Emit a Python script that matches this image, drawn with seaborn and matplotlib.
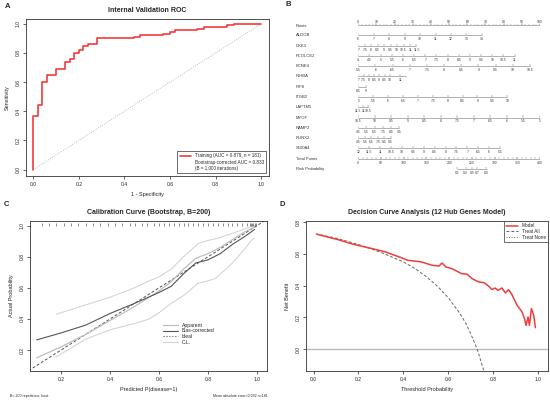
import numpy as np
import pandas as pd
import matplotlib
matplotlib.use("Agg")
import matplotlib.pyplot as plt
import seaborn as sns
from matplotlib.lines import Line2D

sns.set_style("ticks")
plt.rcParams["font.family"] = ["Liberation Sans", "DejaVu Sans"]

# ---- panel A: ROC (step points) ----
roc_fpr = [0, 0, 0.02, 0.04, 0.06, 0.10, 0.14, 0.16, 0.18, 0.20, 0.22, 0.24, 0.28,
           0.44, 0.47, 0.52, 0.57, 0.60, 0.62, 0.66, 0.72, 0.75, 0.85, 0.88, 1.0]
roc_tpr = [0, 0.37, 0.44, 0.60, 0.65, 0.69, 0.74, 0.76, 0.80, 0.82, 0.85, 0.86, 0.90,
           0.91, 0.92, 0.925, 0.93, 0.945, 0.955, 0.96, 0.965, 0.975, 0.99, 1.0, 1.0]

# ---- panel B: nomogram ----
genes = ["ALDOB", "DKK3", "PCOLCE2", "KCNE4", "INHBA", "IRF8", "ITGB2",
         "LAPTM5", "MYOF", "RAMP2", "RUNX2", "S100A4"]
gene_v0 = [6, 7, 4, 5.5, 7, 8.5, 5, 11.5, 10.5, 4.5, 4.5, 12]
gene_v1 = [14, 11.5, 11, 10.5, 11.5, 9, 10, 10.5, 5, 9.5, 9.5, 5.5]
gene_p1 = [68, 32, 86, 94.5, 26, 4, 82, 5.5, 100, 22.4, 17.8, 78]
gene_labels = [
    [6, 7, 8, 9, 10, 11, 12, 13, 14],
    [7, 7.5, 8, 8.5, 9, 9.5, 10, 10.5, 11, 11.5],
    [4, 4.5, 5, 5.5, 6, 6.5, 7, 7.5, 8, 8.5, 9, 9.5, 10, 10.5, 11],
    [5.5, 6, 6.5, 7, 7.5, 8, 8.5, 9, 9.5, 10, 10.5],
    [7, 7.5, 8, 8.5, 9, 9.5, 10, 11],
    [8.5, 9],
    [5, 5.5, 6, 6.5, 7, 7.5, 8, 8.5, 9, 9.5, 10],
    [11.5, 11, 10.5],
    [10.5, 10, 9.5, 9, 8.5, 8, 7.5, 7, 6.5, 6, 5.5, 5],
    [4.5, 5.5, 6.5, 7.5, 8.5, 9.5],
    [4.5, 5.5, 6.5, 7.5, 8.5, 9.5],
    [12, 11.5, 11, 10.5, 10, 9.5, 9, 8.5, 8, 7.5, 7, 6.5, 6, 5.5],
]
points_labels = [0, 10, 20, 30, 40, 50, 60, 70, 80, 90, 100]
total_labels = [0, 50, 100, 150, 200, 250, 300, 350, 400]
risk_probs = [0.1, 0.3, 0.5, 0.7, 0.9]
risk_total = [218, 236, 250, 262, 281]
risk_range = [218, 284]

# ---- panel C: calibration ----
cal_x = [0.10, 0.20, 0.30, 0.40, 0.50, 0.60, 0.65, 0.70, 0.75, 0.80, 0.85, 0.90, 0.95, 0.99]
cal_apparent = [0.15, 0.22, 0.30, 0.39, 0.48, 0.58, 0.64, 0.72, 0.79, 0.82, 0.86, 0.91, 0.96, 0.99]
cal_bias = [0.265, 0.31, 0.36, 0.435, 0.50, 0.57, 0.61, 0.69, 0.76, 0.78, 0.82, 0.88, 0.93, 0.975]
ci_x = [0.18, 0.30, 0.40, 0.50, 0.56, 0.60, 0.65, 0.70, 0.76, 0.80, 0.83, 0.90, 0.95, 0.98, 0.99]
ci_upper = [0.43, 0.49, 0.54, 0.60, 0.645, 0.67, 0.72, 0.80, 0.885, 0.905, 0.915, 0.95, 0.98, 0.995, 1.0]
ci_lower = [0.155, 0.27, 0.33, 0.37, 0.40, 0.44, 0.50, 0.55, 0.63, 0.645, 0.66, 0.76, 0.85, 0.91, 0.92]
rug_x = [0.12, 0.15, 0.18, 0.21, 0.24, 0.27, 0.30, 0.33, 0.36, 0.39, 0.42, 0.45, 0.48, 0.50,
         0.53, 0.55, 0.58, 0.60, 0.62, 0.64, 0.66, 0.68, 0.70, 0.72, 0.74, 0.76, 0.78, 0.80,
         0.82, 0.84, 0.86, 0.88, 0.90, 0.92, 0.94, 0.96, 0.97, 0.975, 0.98, 0.985, 0.99, 0.995]

# ---- panel D: decision curve ----
dca_thr = [0.015, 0.11, 0.18, 0.26, 0.32, 0.39, 0.42, 0.48, 0.53, 0.56, 0.573, 0.59, 0.617,
           0.66, 0.685, 0.707, 0.737, 0.76, 0.78, 0.796, 0.81, 0.823, 0.84, 0.856, 0.87,
           0.885, 0.908, 0.93, 0.942, 0.948, 0.957, 0.963, 0.972, 0.982, 0.99]
dca_model = [0.724, 0.69, 0.66, 0.634, 0.613, 0.577, 0.56, 0.55, 0.528, 0.524, 0.543, 0.518,
             0.507, 0.476, 0.472, 0.444, 0.423, 0.419, 0.398, 0.375, 0.385, 0.37, 0.385,
             0.354, 0.375, 0.343, 0.276, 0.234, 0.187, 0.149, 0.202, 0.149, 0.255, 0.213, 0.135]
all_thr = [0.01, 0.1, 0.2, 0.3, 0.4, 0.45, 0.5, 0.55, 0.6, 0.65, 0.68, 0.7, 0.73, 0.76]
all_nb = [0.727, 0.70, 0.66, 0.61, 0.55, 0.51, 0.46, 0.40, 0.325, 0.23, 0.16, 0.10, 0.0, -0.14]


def r_style(ax):
    for s in ax.spines.values():
        s.set_visible(True)
        s.set_linewidth(0.6)
        s.set_color("#333333")
    ax.tick_params(direction="out", length=2, width=0.5, labelsize=3.6, pad=2)
    for t in ax.get_yticklabels():
        t.set_rotation(90)
        t.set_va("center")


fig = plt.figure(figsize=(5.5, 4), dpi=100)

# ================= A =================
axA = fig.add_axes([26 / 550, 1 - 176 / 400, 243 / 550, 157 / 400])
axA.plot([0, 1], [0, 1], ls=":", color="#AAAAAA", lw=0.6)
roc_df = pd.DataFrame({"fpr": roc_fpr, "tpr": roc_tpr})
sns.lineplot(data=roc_df, x="fpr", y="tpr", ax=axA, sort=False, estimator=None,
             drawstyle="steps-post", color="#F03C3C", lw=1.2,
             label="Training (AUC = 0.879, n = 181)")
axA.set_xlim(-0.032, 1.034)
axA.set_ylim(-0.044, 1.032)
axA.set_xticks([0, 0.2, 0.4, 0.6, 0.8, 1.0])
axA.set_yticks([0, 0.2, 0.4, 0.6, 0.8, 1.0])
axA.set_xticklabels(["0.0", "0.2", "0.4", "0.6", "0.8", "1.0"])
axA.set_yticklabels(["0.0", "0.2", "0.4", "0.6", "0.8", "1.0"])
axA.set_xlabel("1 - Specificity", fontsize=4, labelpad=4)
axA.set_ylabel("Sensitivity", fontsize=4, labelpad=4)
axA.set_title("Internal Validation ROC", fontsize=5, fontweight="bold", pad=5)
r_style(axA)
hA = [Line2D([], [], color="#F03C3C", lw=1.2),
      Line2D([], [], color="none"), Line2D([], [], color="none")]
legA = axA.legend(hA, ["Training (AUC = 0.879, n = 181)",
                       "Bootstrap-corrected AUC = 0.833",
                       "(B = 1,000 iterations)"],
                  loc="lower right", fontsize=3.3, frameon=True, fancybox=False,
                  edgecolor="#333333", framealpha=1, handlelength=2.5,
                  borderpad=0.5, labelspacing=0.3, borderaxespad=0.6)
legA.get_frame().set_linewidth(0.5)

# ================= B =================
axB = fig.add_axes([358.3 / 550, 1 - 174 / 400, 181.7 / 550, 154 / 400])
axB.set_xlim(0, 100)
axB.set_ylim(14.5, -0.5)
axB.axis("off")
lab_x = -34.3
lc = "#777777"
tfs = 2.4


def nomo_row(row, pos, labels, p_lo, p_hi, minor=None, above=False):
    axB.plot([p_lo, p_hi], [row, row], color=lc, lw=0.4)
    if minor is not None:
        axB.vlines(minor, row - 0.12, row, color=lc, lw=0.3)
    axB.vlines(pos, row - 0.2, row, color=lc, lw=0.35)
    for p, l in zip(pos, labels):
        axB.text(p, row - 0.33 if above else row + 0.38, l, fontsize=tfs,
                 ha="center", va="center", color="#333333")


axB.text(lab_x, 0.05, "Points", fontsize=3, va="center", ha="left", color="#333333")
nomo_row(0, points_labels, [str(v) for v in points_labels], 0, 100,
         minor=np.arange(0, 101, 2), above=True)

for i, g in enumerate(genes):
    row = i + 1
    v0, v1, p1 = gene_v0[i], gene_v1[i], gene_p1[i]
    pos = [(v - v0) / (v1 - v0) * p1 for v in gene_labels[i]]
    axB.text(lab_x, row, g, fontsize=3, va="center", ha="left", color="#333333")
    nomo_row(row, pos, [f"{v:g}" for v in gene_labels[i]], 0, p1)

axB.text(lab_x, 13, "Total Points", fontsize=3, va="center", ha="left", color="#333333")
tpos = [v / 4 for v in total_labels]
nomo_row(13, tpos, [str(v) for v in total_labels], 0, 100,
         minor=np.arange(0, 101, 2.5))

axB.text(lab_x, 14, "Risk Probability", fontsize=3, va="center", ha="left", color="#333333")
nomo_row(14, [v / 4 for v in risk_total], [f"{v:g}" for v in risk_probs],
         risk_range[0] / 4, risk_range[1] / 4)

# ================= C =================
axC = fig.add_axes([30 / 550, 1 - 371 / 400, 237 / 550, 150 / 400])
axC.plot([0, 1.1], [0, 1.1], ls=(0, (3, 2)), color="#555555", lw=0.7)
sns.lineplot(x=ci_x, y=ci_upper, ax=axC, color="#D0D0D0", lw=0.7, estimator=None)
sns.lineplot(x=ci_x, y=ci_lower, ax=axC, color="#D0D0D0", lw=0.7, estimator=None)
sns.lineplot(x=cal_x, y=cal_apparent, ax=axC, color="#BDBDBD", lw=0.9, estimator=None)
sns.lineplot(x=cal_x, y=cal_bias, ax=axC, color="#555555", lw=0.8, estimator=None)
axC.vlines(rug_x, 0.965, 0.99, transform=axC.get_xaxis_transform(), color="#333333", lw=0.4)
axC.set_xlim(0.073, 1.041)
axC.set_ylim(0.065, 1.03)
axC.set_xticks([0.2, 0.4, 0.6, 0.8, 1.0])
axC.set_yticks([0.2, 0.4, 0.6, 0.8, 1.0])
axC.set_xticklabels(["0.2", "0.4", "0.6", "0.8", "1.0"])
axC.set_yticklabels(["0.2", "0.4", "0.6", "0.8", "1.0"])
axC.set_xlabel("Predicted P(disease=1)", fontsize=4, labelpad=4)
axC.set_ylabel("Actual Probability", fontsize=4, labelpad=4)
axC.set_title("Calibration Curve (Bootstrap, B=200)", fontsize=5, fontweight="bold", pad=5)
r_style(axC)
hC = [Line2D([], [], color="#BDBDBD", lw=0.9), Line2D([], [], color="#555555", lw=0.8),
      Line2D([], [], color="#555555", lw=0.8, ls=":"), Line2D([], [], color="#D0D0D0", lw=0.7)]
axC.legend(hC, ["Apparent", "Bias-corrected", "Ideal", "C.L."], loc="lower left",
           bbox_to_anchor=(0.55, 0.16), fontsize=3.6, frameon=False,
           handlelength=3, labelspacing=0.1, borderpad=0)
fig.text(10 / 550, 1 - 396 / 400, "B= 200 repetitions, boot", fontsize=2.6, va="center")
fig.text(268 / 550, 1 - 396 / 400, "Mean absolute error=0.032 n=181", fontsize=2.6,
         va="center", ha="right")

# ================= D =================
axD = fig.add_axes([306 / 550, 1 - 371 / 400, 242 / 550, 150 / 400])
axD.axhline(0, color="#BBBBBB", lw=1.0)
sns.lineplot(x=all_thr, y=all_nb, ax=axD, color="#666666", lw=0.7,
             ls=(0, (3, 2)), estimator=None)
sns.lineplot(x=dca_thr, y=dca_model, ax=axD, color="#F03C3C", lw=1.1, estimator=None)
axD.set_xlim(-0.034, 1.046)
axD.set_ylim(-0.139, 0.808)
axD.set_xticks([0, 0.2, 0.4, 0.6, 0.8, 1.0])
axD.set_yticks([0, 0.2, 0.4, 0.6, 0.8])
axD.set_xticklabels(["0.0", "0.2", "0.4", "0.6", "0.8", "1.0"])
axD.set_yticklabels(["0.0", "0.2", "0.4", "0.6", "0.8"])
axD.set_xlabel("Threshold Probability", fontsize=4, labelpad=4)
axD.set_ylabel("Net Benefit", fontsize=4, labelpad=4)
axD.set_title("Decision Curve Analysis (12 Hub Genes Model)", fontsize=5,
              fontweight="bold", pad=5)
r_style(axD)
hD = [Line2D([], [], color="#F03C3C", lw=1.1),
      Line2D([], [], color="#666666", lw=0.7, ls=(0, (3, 2))),
      Line2D([], [], color="#666666", lw=0.7, ls=":")]
legD = axD.legend(hD, ["Model", "Treat All", "Treat None"], loc="upper right",
                  fontsize=3.4, frameon=True, fancybox=False, edgecolor="#333333",
                  framealpha=1, handlelength=2.5, labelspacing=0.15,
                  borderpad=0.4, borderaxespad=0.1)
legD.get_frame().set_linewidth(0.5)

# panel letters
for lx, ly, s in [(5, 6, "A"), (285, 5, "B"), (4, 204, "C"), (280, 204, "D")]:
    fig.text(lx / 550, 1 - ly / 400, s, fontsize=5.5, fontweight="bold", va="center")

fig.savefig("out.png", dpi=100)
